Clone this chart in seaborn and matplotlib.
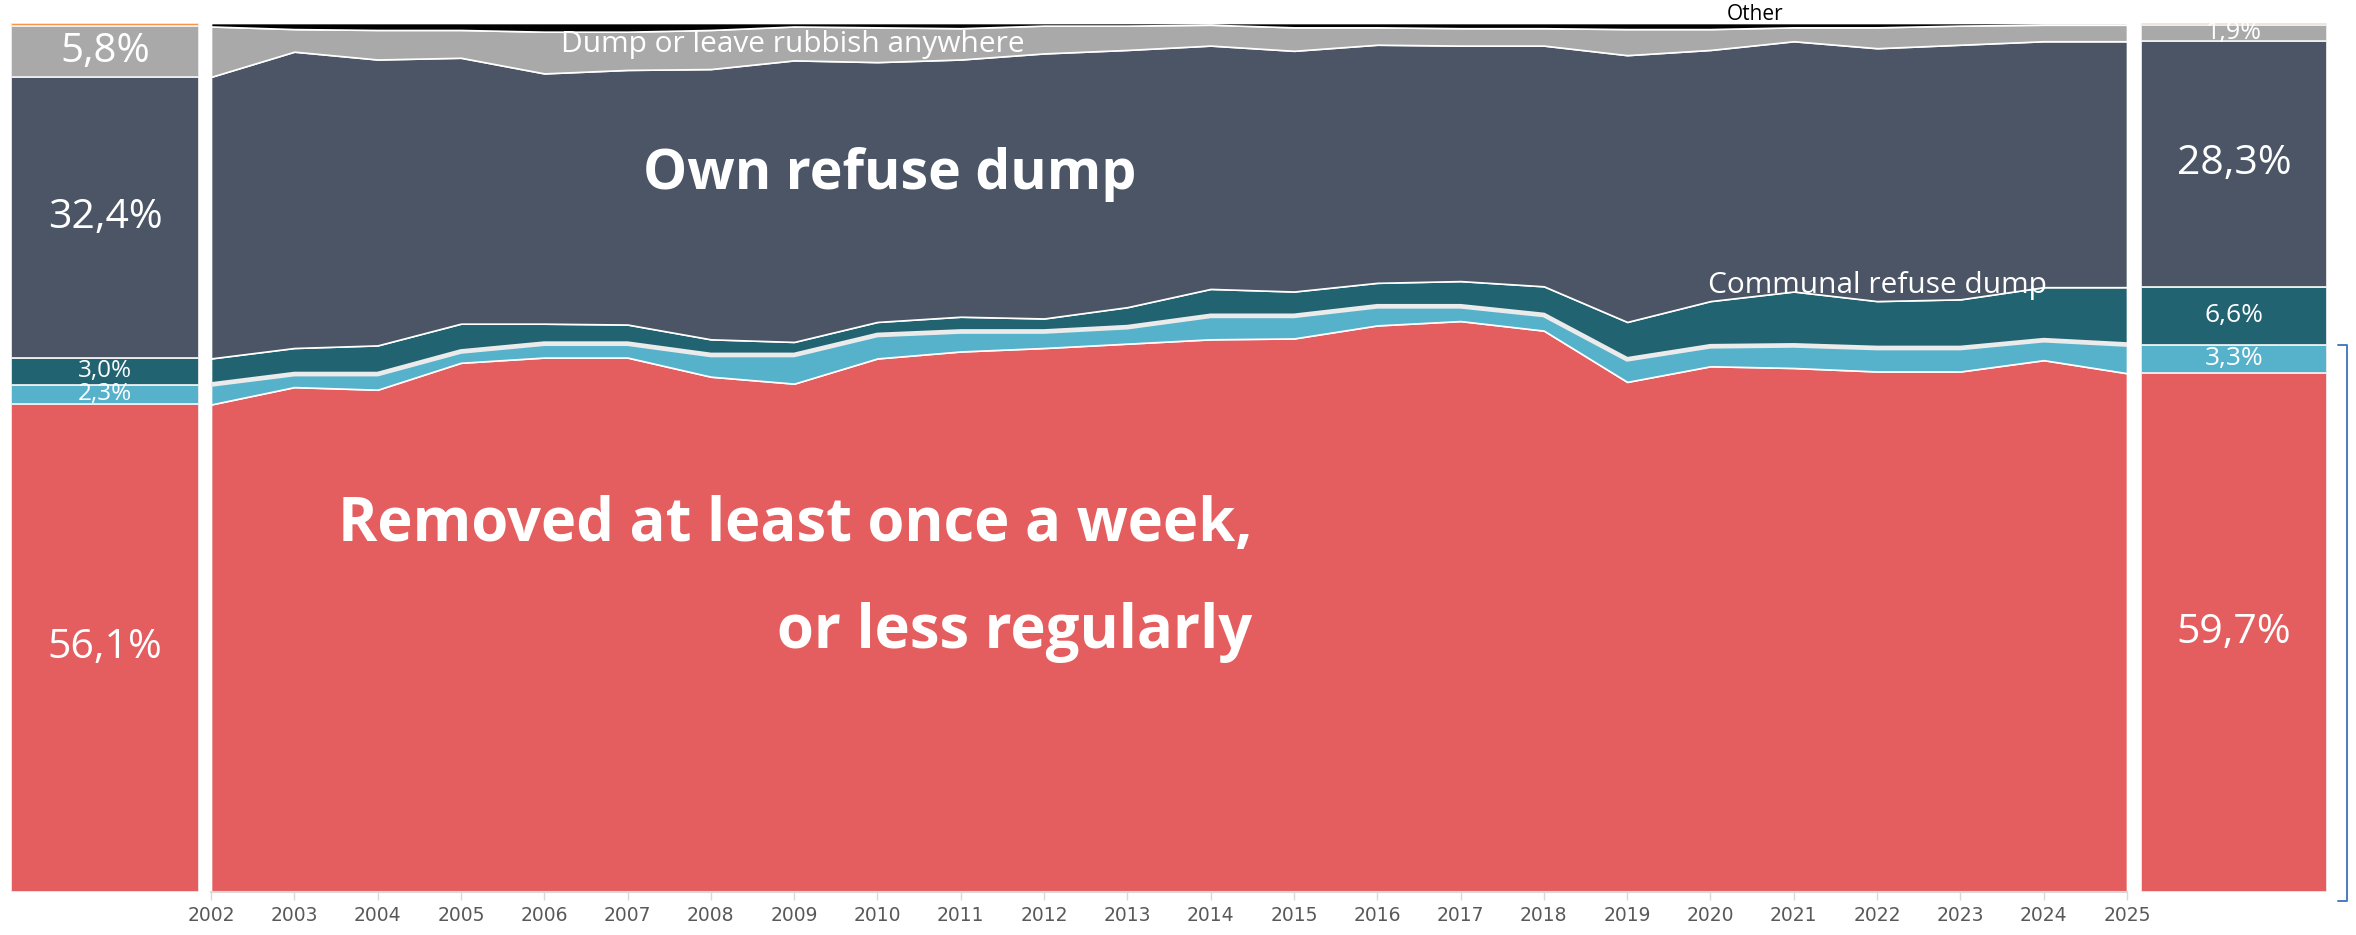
import matplotlib
matplotlib.use("Agg")
import matplotlib.pyplot as plt
import seaborn as sns
import numpy as np
import pandas as pd
from matplotlib.transforms import blended_transform_factory

# ---------------- data ----------------
years = [2002, 2003, 2004, 2005, 2006, 2007, 2008, 2009, 2010, 2011, 2012, 2013,
         2014, 2015, 2016, 2017, 2018, 2019, 2020, 2021, 2022, 2023, 2024, 2025]
removed = [56.1, 58.1, 57.8, 60.9, 61.5, 61.5, 59.3, 58.5, 61.4, 62.2, 62.6, 63.1,
           63.6, 63.7, 65.2, 65.7, 64.6, 58.7, 60.5, 60.3, 59.9, 59.9, 61.2, 59.7]
communal_container = [2.3, 1.5, 1.8, 1.3, 1.6, 1.6, 2.5, 3.3, 2.7, 2.3, 1.9, 1.9,
                      2.7, 2.6, 2.2, 1.7, 1.8, 2.6, 2.3, 2.6, 2.7, 2.7, 2.3, 3.3]
communal_dump = [3.0, 3.0, 3.3, 3.2, 2.3, 2.2, 1.8, 1.5, 1.5, 1.7, 1.5, 2.3,
                 3.1, 2.8, 2.7, 2.9, 3.3, 4.3, 5.2, 6.2, 5.4, 5.6, 6.1, 6.6]
own_dump = [32.4, 34.1, 32.9, 30.6, 28.8, 29.3, 31.1, 32.4, 29.9, 29.6, 30.5, 29.6,
            28.0, 27.7, 27.4, 27.1, 27.7, 30.7, 28.9, 28.8, 29.1, 29.3, 28.3, 28.3]
anywhere = [5.8, 2.6, 3.4, 3.2, 4.8, 4.4, 4.5, 3.9, 4.0, 3.6, 3.2, 2.8,
            2.4, 2.7, 2.0, 2.0, 2.0, 3.0, 2.4, 1.6, 2.4, 2.2, 1.9, 1.9]
other = [0.4, 0.7, 0.8, 0.8, 1.0, 1.0, 0.8, 0.4, 0.5, 0.6, 0.3, 0.3,
         0.2, 0.5, 0.5, 0.6, 0.6, 0.7, 0.7, 0.5, 0.5, 0.3, 0.2, 0.2]

series_names = ["Removed at least once a week,\nor less regularly", "Communal container",
                "Communal refuse dump", "Own refuse dump",
                "Dump or leave rubbish anywhere", "Other"]
area_colors = ["#E55E5F", "#56B1CB", "#226372", "#4B5566", "#A9A9A9", "#000000"]
bar_colors = ["#E55E5F", "#56B1CB", "#226372", "#4B5566", "#A9A9A9", "#F79646"]

df = pd.DataFrame({"year": years, "removed": removed, "container": communal_container,
                   "communal": communal_dump, "own": own_dump,
                   "anywhere": anywhere, "other": other})
cols = ["removed", "container", "communal", "own", "anywhere", "other"]

# ---------------- style ----------------
sns.set_theme(style="white")
plt.rcParams["font.family"] = ["Open Sans", "DejaVu Sans"]

W, H = 2356, 935
fig = plt.figure(figsize=(W / 100, H / 100), dpi=100)
bot_px, top_px = 892, 23
fy = (H - bot_px) / H
fh = (bot_px - top_px) / H

ax_l = fig.add_axes([11 / W, fy, 188 / W, fh])
ax = fig.add_axes([211 / W, fy, 1916 / W, fh])
ax_r = fig.add_axes([2141 / W, fy, 186 / W, fh])

# ---------------- main stacked area ----------------
ax.stackplot(df["year"], *[df[c] for c in cols], colors=area_colors,
             edgecolor="white", linewidth=1.2)
# light separator between container and communal dump
sep = df["removed"] + df["container"]
sns.lineplot(x=df["year"], y=sep, ax=ax, color="#EBEBEB", linewidth=3.4)
ax.set_xlim(years[0], years[-1])
ax.set_ylim(0, 100)
ax.set_xlabel("")
ax.set_ylabel("")
ax.set_yticks([])
ax.set_xticks(years)
ax.set_xticklabels([str(y) for y in years], fontsize=13.5, color="#595959",
                   family=["DejaVu Sans"])
ax.tick_params(axis="x", direction="out", length=6, width=1, color="#D9D9D9",
               pad=4, bottom=True)
for s in ["top", "left", "right"]:
    ax.spines[s].set_visible(False)
ax.spines["bottom"].set_color("#D9D9D9")
ax.spines["bottom"].set_linewidth(1.5)

# texts in area
ax.text(2010.15, 82.6, "Own refuse dump", color="white", fontsize=40,
        fontweight="bold", ha="center", va="center")
ax.text(2014.5, 36.0, series_names[0], color="white", fontsize=43,
        fontweight="bold", ha="right", va="center", linespacing=2.0)
ax.text(2006.2, 97.5, "Dump or leave rubbish anywhere", color="white", fontsize=21.5,
        ha="left", va="center")
ax.text(2020.2, 101.0, "Other", color="black", fontsize=15, ha="left",
        va="center", clip_on=False)
ax.text(2019.97, 69.8, "Communal refuse dump", color="white", fontsize=21.5,
        ha="left", va="center")


# ---------------- side bars ----------------
def fmt(v):
    return f"{v:.1f}".replace(".", ",") + "%"


def side_bar(a, idx, sizes):
    vals = [df[c].iloc[idx] for c in cols]
    bottom = 0
    for k, (v, col) in enumerate(zip(vals, bar_colors)):
        a.bar([0], [v], bottom=bottom, width=1.0, color=col,
              edgecolor="#EEEEEE", linewidth=1.3)
        if k < 5:
            a.text(0, bottom + v / 2, fmt(v), color="white", fontsize=sizes[k],
                   ha="center", va="center")
        bottom += v
    a.set_xlim(-0.5, 0.5)
    a.set_ylim(0, 100)
    a.axis("off")


side_bar(ax_l, 0, [29.5, 17.5, 17.5, 29.5, 29])
side_bar(ax_r, -1, [29.5, 19, 19, 29.5, 18])

# bracket on the right
tr = blended_transform_factory(ax_r.transAxes, ax_r.transData)
top_b = df["removed"].iloc[-1] + df["container"].iloc[-1]
ax_r.plot([1.06, 1.11, 1.11, 1.06], [top_b, top_b, -1, -1], transform=tr,
          color="#4A7EBB", linewidth=1.4, clip_on=False)

fig.savefig("out.png", dpi=100, facecolor="white")
